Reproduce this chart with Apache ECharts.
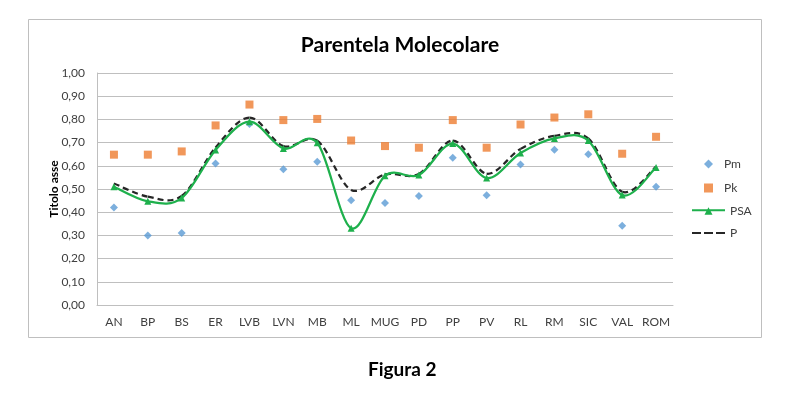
<!DOCTYPE html>
<html>
<head>
<meta charset="utf-8">
<script src="https://cdn.jsdelivr.net/npm/echarts@6/dist/echarts.min.js"></script>
<style>
  html, body { margin: 0; padding: 0; background: #fff; }
  #main { width: 794px; height: 396px; }
</style>
</head>
<body>
<div id="main"></div>
<script>
var categories = ['AN', 'BP', 'BS', 'ER', 'LVB', 'LVN', 'MB', 'ML', 'MUG', 'PD', 'PP', 'PV', 'RL', 'RM', 'SIC', 'VAL', 'ROM'];
var pm  = [0.42, 0.30, 0.31, 0.61, 0.78, 0.585, 0.617, 0.451, 0.44, 0.47, 0.635, 0.473, 0.606, 0.669, 0.65, 0.342, 0.51];
var pk  = [0.648, 0.648, 0.662, 0.774, 0.864, 0.797, 0.802, 0.709, 0.685, 0.678, 0.797, 0.678, 0.778, 0.808, 0.822, 0.652, 0.725];
var psa = [0.51, 0.447, 0.461, 0.668, 0.79, 0.675, 0.699, 0.331, 0.557, 0.56, 0.696, 0.547, 0.655, 0.718, 0.709, 0.474, 0.593];
var p   = [0.524, 0.467, 0.47, 0.679, 0.808, 0.685, 0.708, 0.496, 0.563, 0.565, 0.709, 0.566, 0.673, 0.729, 0.718, 0.488, 0.596];
var yTicks = { min: 0, max: 1, interval: 0.1 };

var font = 'Lato, "Open Sans", sans-serif';
var dashIcon = 'path://M0,0H9V2H0Z M12,0H21V2H12Z M24,0H33V2H24Z';
var psaIcon = 'path://M0,3.5H33V5.5H0Z M12.5,9L16.5,1.5L20.5,9Z';

// Excel-style smoothed line (Catmull-Rom through the points), drawn with the axes' coords
function smoothCurve(values, color, dash) {
    return function (params, api) {
        if (params.dataIndex !== 0) return null;
        var pts = values.map(function (v, i) { return api.coord([i, v]); });
        var n = pts.length;
        var children = [];
        for (var i = 0; i < n - 1; i++) {
            var p0 = pts[Math.max(i - 1, 0)];
            var p1 = pts[i];
            var p2 = pts[i + 1];
            var p3 = pts[Math.min(i + 2, n - 1)];
            children.push({
                type: 'bezierCurve',
                shape: {
                    x1: p1[0], y1: p1[1],
                    cpx1: p1[0] + (p2[0] - p0[0]) / 6, cpy1: p1[1] + (p2[1] - p0[1]) / 6,
                    cpx2: p2[0] - (p3[0] - p1[0]) / 6, cpy2: p2[1] - (p3[1] - p1[1]) / 6,
                    x2: p2[0], y2: p2[1]
                },
                style: { fill: null, stroke: color, lineWidth: 2.25, lineDash: dash }
            });
        }
        return { type: 'group', children: children };
    };
}

var chart = echarts.init(document.getElementById('main'));

chart.setOption({
    animation: false,
    textStyle: { fontFamily: font },
    title: {
        text: 'Parentela Molecolare',
        left: 395,
        top: 30,
        textAlign: 'center',
        textStyle: { fontSize: 21, fontWeight: 'bold', color: '#000', fontFamily: font }
    },
    graphic: [
        {
            type: 'rect',
            shape: { x: 28.5, y: 19.5, width: 733, height: 318 },
            style: { fill: 'none', stroke: '#BFBFBF', lineWidth: 1 },
            z: -1
        },
        {
            type: 'text',
            left: 368,
            top: 360,
            style: { text: 'Figura 2', font: 'bold 19px ' + font, fill: '#000' }
        }
    ],
    legend: [
        {
            // marker legend
            orient: 'vertical',
            left: 699,
            top: 153,
            itemWidth: 9,
            itemHeight: 9,
            itemGap: 12,
            textStyle: { fontSize: 12, color: '#404040', fontFamily: font, padding: [0, 0, 0, 6] },
            data: [
                { name: 'Pm', icon: 'diamond' },
                { name: 'Pk', icon: 'rect' }
            ]
        },
        {
            // line legend
            orient: 'vertical',
            left: 687,
            top: 200,
            itemWidth: 33,
            itemHeight: 9,
            itemGap: 10,
            textStyle: { fontSize: 12, color: '#404040', fontFamily: font },
            data: [{ name: 'PSA', icon: psaIcon }, { name: 'P', icon: dashIcon }]
        }
    ],
    grid: { left: 97, right: 121, top: 73, bottom: 91 },
    xAxis: {
        type: 'category',
        data: categories,
        boundaryGap: true,
        axisLine: { lineStyle: { color: '#BFBFBF' } },
        axisTick: { show: false },
        axisLabel: { color: '#404040', fontSize: 12, margin: 11, interval: 0 }
    },
    yAxis: {
        type: 'value',
        min: yTicks.min,
        max: yTicks.max,
        interval: yTicks.interval,
        name: 'Titolo asse',
        nameLocation: 'middle',
        nameRotate: 90,
        nameGap: 37,
        nameMoveOverlap: false,
        nameTextStyle: { fontWeight: 'bold', fontSize: 12, color: '#000' },
        axisLine: { show: true, lineStyle: { color: '#BFBFBF' } },
        axisTick: { show: false },
        splitLine: { lineStyle: { color: '#BFBFBF' } },
        axisLabel: {
            color: '#404040',
            fontSize: 12,
            margin: 12,
            formatter: function (v) { return v.toFixed(2).replace('.', ','); }
        }
    },
    series: [
        {
            name: 'Pm',
            type: 'scatter',
            data: pm,
            symbol: 'diamond',
            symbolSize: 8,
            itemStyle: { color: '#5B9BD5' },
            z: 2
        },
        {
            name: 'Pk',
            type: 'scatter',
            data: pk,
            symbol: 'rect',
            symbolSize: 8,
            itemStyle: { color: '#ED7D31' },
            z: 2
        },
        {
            name: 'P',
            type: 'custom',
            data: p.map(function (v, i) { return [i, v]; }),
            encode: { x: 0, y: 1 },
            renderItem: smoothCurve(p, '#262626', [6, 4]),
            itemStyle: { color: '#262626' },
            z: 3
        },
        {
            name: 'PSA',
            type: 'custom',
            data: psa.map(function (v, i) { return [i, v]; }),
            encode: { x: 0, y: 1 },
            renderItem: smoothCurve(psa, '#1EB04C', null),
            itemStyle: { color: '#1EB04C' },
            z: 4
        },
        {
            name: 'PSA',
            type: 'line',
            data: psa,
            symbol: 'triangle',
            symbolSize: 7,
            showSymbol: true,
            lineStyle: { opacity: 0 },
            itemStyle: { color: '#1EB04C' },
            z: 5
        }
    ]
});
</script>
</body>
</html>
